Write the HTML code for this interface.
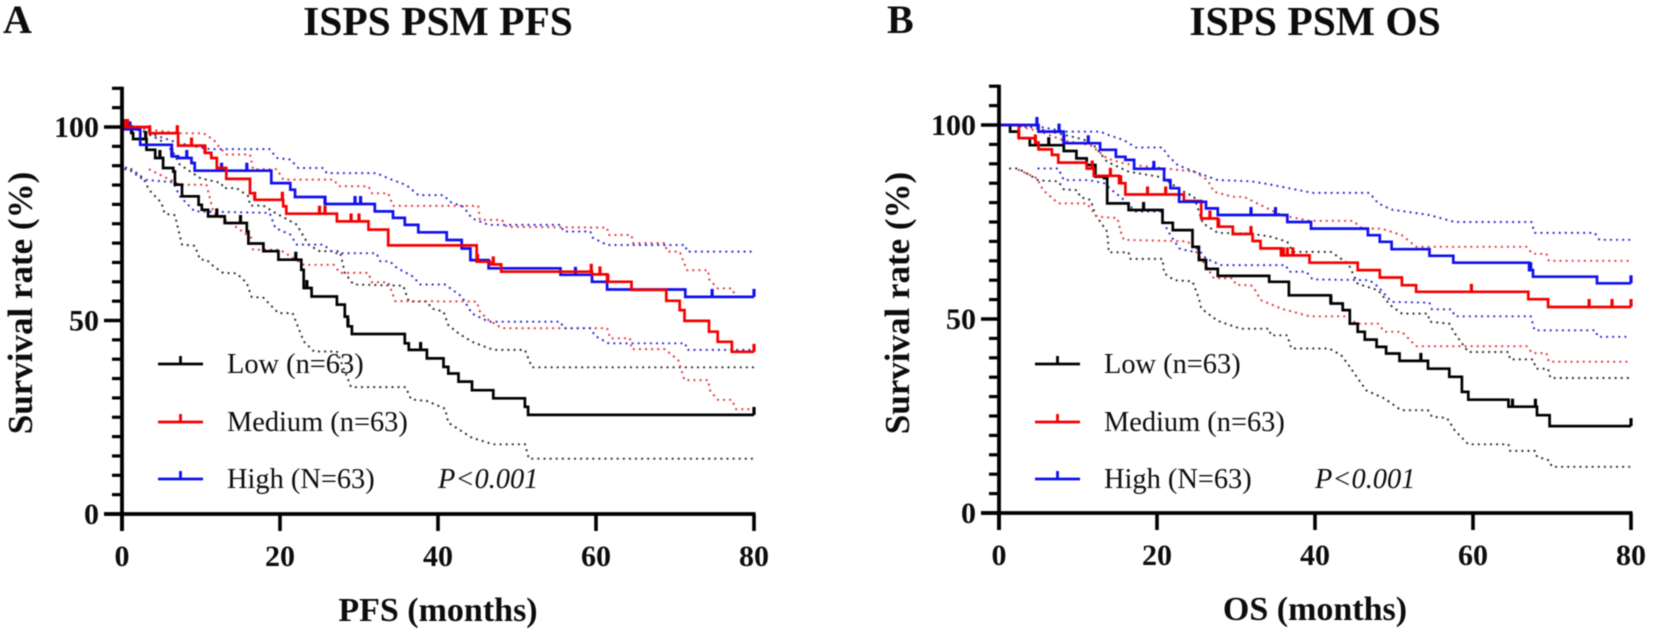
<!DOCTYPE html>
<html lang="en">
<head>
<meta charset="utf-8">
<title>ISPS PSM survival curves</title>
<style>
html,body{margin:0;padding:0;background:#fff;}
svg{display:block;font-family:"Liberation Serif",serif;filter:blur(0.45px);}
text{fill:#0c0c0c;}
</style>
</head>
<body>
<svg id="chart" xmlns="http://www.w3.org/2000/svg" width="1654" height="635" viewBox="0 0 1654 635">
<rect width="1654" height="635" fill="#fff"></rect>
<text x="3" y="33" font-size="40" font-weight="bold">A</text>
<text x="887" y="33" font-size="40" font-weight="bold">B</text>
<text x="438" y="35" font-size="41.5" font-weight="bold" text-anchor="middle">ISPS PSM PFS</text>
<text x="1315" y="35" font-size="41.5" font-weight="bold" text-anchor="middle">ISPS PSM OS</text>
<g id="panel-a"></g>
<g id="panel-b"></g>
</svg>
<script>
// Axis ticks
const xTickValues = [0, 20, 40, 60, 80];
const yMajorTicks = [0, 50, 100];
const yMinorTicks = [5, 10, 15, 20, 25, 30, 35, 40, 45, 55, 60, 65, 70, 75, 80, 85, 90, 95, 105, 110];
const legendLabels = ['Low (n=63)', 'Medium (n=63)', 'High (N=63)'];

// Panel A: PFS. Solid curves: [month, survival after the drop]
const pfsLow = [[0,100],[1.2,98.4],[1.4,96.9],[3.1,94.1],[4.2,92],[5.2,89.4],[6.5,88.5],[6.7,85.1],[7.6,82.1],[9.7,79.9],[10.1,78.6],[10.9,76.9],[13,75.2],[15.8,73],[16,69.9],[17.9,67.9],[19.8,65.7],[22.7,63.1],[23,58.4],[24,56.2],[27.2,54.1],[28.2,51],[28.6,48.5],[29.1,46.5],[35.8,44.1],[36.3,42.4],[38.6,40.2],[40.7,38],[41.3,36.3],[42.6,34.2],[44.3,32],[47,29.9],[51,27.7],[51.4,25.6]];
const pfsMedium = [[0,100],[3.5,98.4],[7.1,95.2],[10.5,93.3],[11.3,92],[12,89.4],[13.2,86.6],[16.2,82.9],[16.8,81.2],[20.4,79.5],[20.8,77.6],[27.2,75.6],[31.2,73.5],[33.7,69.4],[44.9,65.2],[46.6,64.5],[48,62.6],[59.5,61.9],[61.4,60],[64.5,57.9],[68.9,55.1],[70.6,52.7],[71.2,49.9],[74.3,47.1],[75.4,44.5],[77.2,41.9]];
const pfsHigh = [[0,99.4],[2.3,95.4],[6.3,92.4],[7.1,92],[8.8,90.7],[9.2,88.7],[18.9,85.5],[21.3,83.8],[21.9,81.9],[25.7,80.1],[32,78.2],[34.3,76.5],[35.8,74.7],[37.5,72.8],[41.1,70.8],[43,68.6],[44.1,65.6],[46.4,63.5],[55.5,61.8],[59.5,60],[61.4,58],[71.3,56.1]];
const pfsLowCensored = [1.2, 3, 4.8, 12, 15, 22, 23.4, 28.6, 37.8, 80];
const pfsMediumCensored = [0.3, 0.7, 3.5, 7, 8.8, 10.5, 16.8, 20.3, 25, 25.7, 29, 30, 45, 47, 59.4, 60.5, 61.5, 80];
const pfsHighCensored = [1, 6.3, 8.2, 12.6, 15.8, 25.7, 29.5, 30.2, 57.4, 74.7, 80];
// Panel A confidence bands: [month, survival]
const pfsLowUpper = [[1.5,100],[4.8,96.7],[6.3,94.1],[7.3,90.3],[9.9,86.8],[12.6,85.5],[12.8,84.2],[14.5,84.2],[16,82.1],[16.2,79.7],[17.9,79.7],[19.4,77.8],[22.1,74.8],[23,71.7],[23.6,69.6],[25,67.9],[27.6,67.9],[28.2,62.3],[29.3,59.3],[35.6,59],[36.3,54.9],[38.6,54.9],[39.2,53.1],[40.7,52.3],[41.3,48.8],[42.6,46.7],[44.3,44.5],[47,42.4],[51,42.4],[51.9,37.9],[80,37.9]];
const pfsLowLower = [[0.4,89.1],[1.2,89.1],[2.7,86.8],[3.4,83.8],[5,80.4],[5.4,77.6],[6.7,77.2],[7.6,69.6],[9.2,69.3],[9.9,65.7],[10.7,65.7],[11.6,64],[12.8,62.3],[14.5,62.2],[15.8,59.7],[16.4,56.1],[17.9,55.9],[19.8,51.9],[21.6,51.9],[23,44.6],[24.3,42],[27.2,42],[29,32.8],[35.9,32.8],[36.6,29.6],[38.6,29.2],[40.9,27.2],[41.3,23.6],[44.3,19.7],[47,18],[51,18],[51.5,14.3],[80,14.3]];
const pfsMediumUpper = [[0.5,100],[7.3,98.4],[10.3,98.4],[11.6,96.7],[12.4,94.6],[13.2,92.9],[16.2,92.9],[16.6,89.1],[19.6,89.1],[20.4,86.4],[26.8,86.4],[27.4,84.7],[31.2,84.7],[31.6,82.9],[33.7,82.9],[34.3,79.6],[45.1,79.6],[45.3,76],[48.1,76],[48.7,74.2],[61.4,74],[61.6,72.1],[64.5,72.1],[64.7,70],[68.7,70],[69,67.8],[70.6,67.8],[71.5,63],[74.2,63],[74.3,60.7],[75.4,58.3],[77.2,58.3],[77.7,56.2],[80,56.2]];
const pfsMediumLower = [[3.5,89],[7.3,85.1],[10.7,85.1],[11.6,77.8],[14,74.8],[16.4,71.3],[16.6,68.3],[20,68.3],[23,64.4],[26.8,64.4],[27.6,62.3],[31.2,62.3],[31.6,59.9],[33.7,59.9],[34.6,55],[44.9,54.9],[45.3,52.3],[46.4,50.1],[48.1,48],[61.4,48],[61.8,45.4],[64.3,45.4],[64.5,42.6],[68.7,42.6],[70.4,39.8],[71.2,34.6],[74.2,34.6],[74.4,32],[75.4,29.5],[77.2,29.5],[77.7,27.1],[80,27.1]];
const pfsHighUpper = [[0.5,100],[2.7,98.9],[6.5,96.3],[9,95],[11.1,94.3],[18.7,94.3],[19.6,92],[21.3,91.6],[22.3,89.4],[25.5,89.4],[25.9,88.1],[32.2,88.1],[33.9,86.6],[36,85],[37.5,82.4],[40.7,82.4],[41.5,80.7],[43.2,79.4],[44.3,76.4],[46.4,74.7],[55.5,74.7],[55.9,73],[59.3,73],[59.5,71.5],[61.4,69.5],[71.3,69.5],[71.5,67.8],[80,67.8]];
const pfsHighLower = [[0.5,89.5],[2.7,86.4],[6.5,85.7],[7.3,82.1],[9.2,78.2],[18.7,77.8],[19.4,73.9],[21.3,72.2],[22.1,69.6],[25.5,69.6],[26.8,67.4],[32.2,67.4],[32.7,65.3],[33.9,65.3],[34.8,63.6],[36.9,61.3],[37.7,59.3],[40.9,59.3],[43,56.2],[44.3,51.8],[46.4,49.7],[55.5,49.7],[55.9,48],[59.3,48],[59.9,46],[61.6,44.1],[71.3,44.1],[71.5,42.4],[80,42.4]];

// Panel B: OS. Solid curves: [month, survival after the drop]
const osLow = [[0,100],[1.4,98.3],[2.5,96.6],[3.9,94.8],[8.2,93.3],[9.8,91.4],[11.1,89.7],[12.2,86.7],[13.3,86.3],[13.7,79.8],[16.4,78.1],[20.7,74.8],[22,72.9],[24.5,68.6],[25.3,65.2],[26.2,62.9],[27.7,61.1],[34.2,59.6],[36.7,56.1],[42,54],[43.5,52.3],[44.4,48.8],[45.4,46.7],[46.3,44.7],[47.8,42.8],[49,41.1],[50.7,39.2],[54.3,37.2],[57,35.1],[58.6,31.2],[59.4,29.2],[64.5,27.4],[68.1,25.2],[69.7,22.4]];
const osMedium = [[0,100],[2.5,96.6],[4.6,95.5],[5,93.7],[6.7,92.3],[7.5,90.3],[11.1,88.8],[12,86.9],[15.2,85],[16,82.1],[23.4,80.4],[25.6,75.9],[27.7,73.8],[29.6,71.9],[32.1,70.1],[33.1,68.2],[35.7,66.4],[39.3,64.5],[45.4,62.6],[48.2,60.7],[51,58.7],[52.8,57],[67,55.1],[69.5,53.1]];
const osHigh = [[0,100],[5,98.3],[8.2,95.3],[12.8,93.6],[14.8,91.8],[16,91],[17.1,88.7],[20.9,85.8],[21.7,83.7],[22.8,80.2],[25.1,80.2],[26.2,78.5],[27.7,76.8],[36.5,75],[39.5,73.3],[46.7,71.6],[48.2,69.9],[49.7,68],[54.5,66.3],[57.5,64.5],[67.1,62.6],[67.6,60.9],[75.7,59.2]];
const osLowCensored = [6.3, 18.3, 42, 53.4, 65, 67.9, 80];
const osMediumCensored = [2.5, 4.6, 11.8, 14.1, 15.4, 18.8, 21.1, 26.7, 27.8, 31.9, 36, 36.5, 37.2, 59.8, 74.7, 77.6, 80];
const osHighCensored = [4.8, 7.6, 8.2, 11.3, 19.6, 31.9, 35, 67.3, 80];
// Panel B confidence bands: [month, survival]
const osLowUpper = [[1,100],[3.9,99.5],[7.3,97.9],[10.7,96.3],[12,94.8],[13.7,90.5],[16.4,88],[20.7,86.5],[23,83.2],[24.7,81.5],[25.8,74.7],[27.7,72.2],[31.9,72],[34.4,71.2],[36.5,69.9],[37.2,67.3],[42,67.3],[44.2,64.3],[45.4,59.1],[48,57.4],[49.5,53.6],[51,51.4],[54.3,51.4],[54.5,49.3],[57,48.8],[57.7,46.3],[59.4,41.5],[64.5,41.5],[64.7,39.6],[67.6,39.6],[68,37.2],[69.5,37.2],[69.8,34.8],[80,34.8]];
const osLowLower = [[1.4,88.8],[2.4,88.8],[3.9,87.1],[5,85.7],[7.5,85.5],[8.2,83.4],[9.9,83.2],[10.3,81.4],[11.6,80.7],[12.2,76.8],[13.7,72.5],[13.9,67.2],[16.4,67.2],[16.6,65.5],[20.7,65.5],[20.9,61.8],[22.2,60],[24.5,59.7],[25.3,55.3],[25.6,52.7],[27.7,49.5],[30.6,47.5],[34.2,47.5],[34.4,45.8],[36.5,45.8],[37,42.4],[41.8,42.4],[43.3,40.7],[44.4,37.7],[45.4,34.7],[46.5,31.6],[48.8,29.5],[50.9,26.5],[54.3,26.5],[54.8,24.8],[56.7,24.5],[57.7,21.3],[59.4,17.7],[64.5,17.7],[64.7,16],[67.9,16],[68.1,14.5],[69.6,13.6],[70,11.9],[80,11.9]];
const osMediumUpper = [[2,100],[5.2,98.3],[8.2,96],[11.6,94.8],[13.7,91.4],[15.8,90.1],[17,89.7],[24.7,88],[26.4,85.8],[27.2,82.8],[29.6,81.5],[31,81.5],[32.7,79.8],[35.7,76.8],[39.3,75.3],[44.8,75.3],[46,73.3],[48.4,73.3],[51,71.6],[52.8,68.6],[66.8,68.6],[67.5,66.8],[69.3,66.8],[69.6,65],[80,65]];
const osMediumLower = [[2.5,88.4],[4.8,86.3],[5.6,83.2],[7.5,79.8],[11.1,79.8],[12.4,76.4],[15,76],[15.4,72.5],[15.8,70.4],[23.9,70],[25.1,66.9],[26,64.3],[27.2,60.5],[29.6,60.5],[30,58.8],[31.9,58.7],[32.3,57.9],[33.1,54.9],[35.7,52.7],[39.3,50.7],[44.2,50.7],[45.2,48.8],[48,48.8],[48.8,46.7],[51,46.7],[52.8,43],[66.8,43],[67.5,41.2],[69.3,41.2],[69.6,39],[80,39]];
const osHighUpper = [[4,100],[8.4,98.3],[12.8,98.3],[13.9,97.4],[15.8,96.1],[17.3,94.2],[20.7,94.2],[21.3,92.3],[22.6,89.7],[24.7,88],[27.7,85.8],[31.9,85.5],[34,84.8],[39.7,82.5],[46.9,82.5],[48,79.8],[49.7,78.2],[54.5,76.8],[57.7,75],[67.4,75],[67.8,72.2],[75.4,72.2],[76,70.4],[80,70.4]];
const osHighLower = [[5,88.8],[7.5,88.8],[8.2,85.8],[11.4,85.8],[13.3,85],[14.3,83.2],[15.6,81.1],[17.3,77.7],[20.5,77.7],[21.3,72.9],[22.8,68.2],[24.3,67.4],[25.1,68.2],[26.2,65.6],[28.1,63.9],[36.3,63.9],[36.7,62.2],[38.9,62.2],[39.7,60.2],[46.9,60],[48,58.3],[49.7,54.4],[54.5,54.2],[54.8,52.5],[57.3,52.5],[57.7,50.7],[67.3,50.7],[67.8,47.1],[75.5,47.1],[75.8,45.4],[80,45.4]];

const SVGNS = 'http://www.w3.org/2000/svg';
const COLORS = { low: '#000000', medium: '#f40000', high: '#1010ee' };
const DOTS = { low: '#333333', medium: '#e63a40', high: '#2f2fd8' };

function make(parent, tag, attrs, text) {
  const el = document.createElementNS(SVGNS, tag);
  for (const k in attrs) el.setAttribute(k, attrs[k]);
  if (text !== undefined) el.textContent = text;
  parent.appendChild(el);
  return el;
}

function survivalAt(curve, month) {
  let s = curve[0][1];
  for (const p of curve) { if (p[0] <= month) s = p[1]; }
  return s;
}

function drawPanel(root, opt) {
  const xPos = m => opt.x0 + m * 7.9;
  const yPos = s => opt.y0 - s * opt.yUnit;

  // confidence bands
  for (const band of opt.bands) {
    const d = band.points.map((p, i) => (i ? 'L' : 'M') + xPos(p[0]).toFixed(1) + ' ' + yPos(p[1]).toFixed(1)).join(' ');
    const el = make(root, 'path', { d: d, fill: 'none', stroke: DOTS[band.group], 'stroke-width': 2.2, 'stroke-linecap': 'round', 'stroke-dasharray': '0.1 6' });
    
    
  }

  // survival curves and censor ticks
  for (const s of opt.series) {
    let d = 'M' + xPos(s.points[0][0]).toFixed(1) + ' ' + yPos(s.points[0][1]).toFixed(1);
    for (const p of s.points) {
      d += ' H' + xPos(p[0]).toFixed(1) + ' V' + yPos(p[1]).toFixed(1);
    }
    d += ' H' + xPos(80).toFixed(1);
    const line = make(root, 'path', { d: d, fill: 'none', stroke: COLORS[s.group], 'stroke-width': 2.7 });
    
    
    for (const m of s.censored) {
      const y = yPos(survivalAt(s.points, m));
      const tick = make(root, 'line', { x1: xPos(m), x2: xPos(m), y1: y, y2: y - 8, stroke: COLORS[s.group], 'stroke-width': 3.2 });
      
      
    }
  }

  // axes
  const yAxis = make(root, 'line', { x1: opt.x0, x2: opt.x0, y1: yPos(110) - 1.5, y2: opt.y0 + 17, stroke: '#000', 'stroke-width': 3.8 });
  
  
  const xAxis = make(root, 'line', { x1: opt.x0 - 18, x2: xPos(80) + 1.5, y1: opt.y0, y2: opt.y0, stroke: '#000', 'stroke-width': 3.8 });
  
  

  for (const v of yMinorTicks) {
    const t = make(root, 'line', { x1: opt.x0 - 10, x2: opt.x0, y1: yPos(v), y2: yPos(v), stroke: '#000', 'stroke-width': 3.2 });
    
    
  }
  for (const v of yMajorTicks) {
    const t = make(root, 'line', { x1: opt.x0 - 18, x2: opt.x0, y1: yPos(v), y2: yPos(v), stroke: '#000', 'stroke-width': 3.6 });
    
    
    const l = make(root, 'text', { x: opt.x0 - 23, y: yPos(v) + 10, 'font-size': 30, 'font-weight': 'bold', 'text-anchor': 'end' }, String(v));
    
    
  }
  for (const v of xTickValues) {
    const t = make(root, 'line', { x1: xPos(v), x2: xPos(v), y1: opt.y0, y2: opt.y0 + 17, stroke: '#000', 'stroke-width': 3.6 });
    
    
    const l = make(root, 'text', { x: xPos(v), y: opt.y0 + 52, 'font-size': 30, 'font-weight': 'bold', 'text-anchor': 'middle' }, String(v));
    
    
  }

  const xTitle = make(root, 'text', { x: xPos(40), y: opt.y0 + 107, 'font-size': 34, 'font-weight': 'bold', 'text-anchor': 'middle' }, opt.xTitle);
  
  
  const cy = 303;
  const yTitle = make(root, 'text', { x: opt.x0 - 90, y: cy, 'font-size': 35, 'font-weight': 'bold', 'text-anchor': 'middle', transform: 'rotate(-90 ' + (opt.x0 - 90) + ' ' + cy + ')' }, 'Survival rate (%)');
  
  

  // legend
  const groups = ['low', 'medium', 'high'];
  const rows = [364, 422, 479];
  groups.forEach((g, i) => {
    const ly = rows[i];
    const lx = opt.x0 + 36;
    const sw = make(root, 'path', { d: 'M' + lx + ' ' + ly + ' h45 M' + (lx + 22.5) + ' ' + ly + ' v-8', fill: 'none', stroke: COLORS[g], 'stroke-width': 2.8 });
    
    
    const lab = make(root, 'text', { x: opt.x0 + 105, y: ly + 9, 'font-size': 28.4 }, legendLabels[i]);
    
    
  });
  const pv = make(root, 'text', { x: opt.x0 + 316, y: 488, 'font-size': 28.4, 'font-style': 'italic' }, 'P<0.001');
  
  
}

drawPanel(document.getElementById('panel-a'), {
  x0: 122, y0: 514, yUnit: 3.87, xTitle: 'PFS (months)',
  bands: [
    { group: 'low', points: pfsLowUpper }, { group: 'low', points: pfsLowLower },
    { group: 'medium', points: pfsMediumUpper }, { group: 'medium', points: pfsMediumLower },
    { group: 'high', points: pfsHighUpper }, { group: 'high', points: pfsHighLower }
  ],
  series: [
    { group: 'low', points: pfsLow, censored: pfsLowCensored },
    { group: 'high', points: pfsHigh, censored: pfsHighCensored },
    { group: 'medium', points: pfsMedium, censored: pfsMediumCensored }
  ]
});
drawPanel(document.getElementById('panel-b'), {
  x0: 999, y0: 513, yUnit: 3.88, xTitle: 'OS (months)',
  bands: [
    { group: 'low', points: osLowUpper }, { group: 'low', points: osLowLower },
    { group: 'medium', points: osMediumUpper }, { group: 'medium', points: osMediumLower },
    { group: 'high', points: osHighUpper }, { group: 'high', points: osHighLower }
  ],
  series: [
    { group: 'low', points: osLow, censored: osLowCensored },
    { group: 'medium', points: osMedium, censored: osMediumCensored },
    { group: 'high', points: osHigh, censored: osHighCensored }
  ]
});
</script>
</body>
</html>
